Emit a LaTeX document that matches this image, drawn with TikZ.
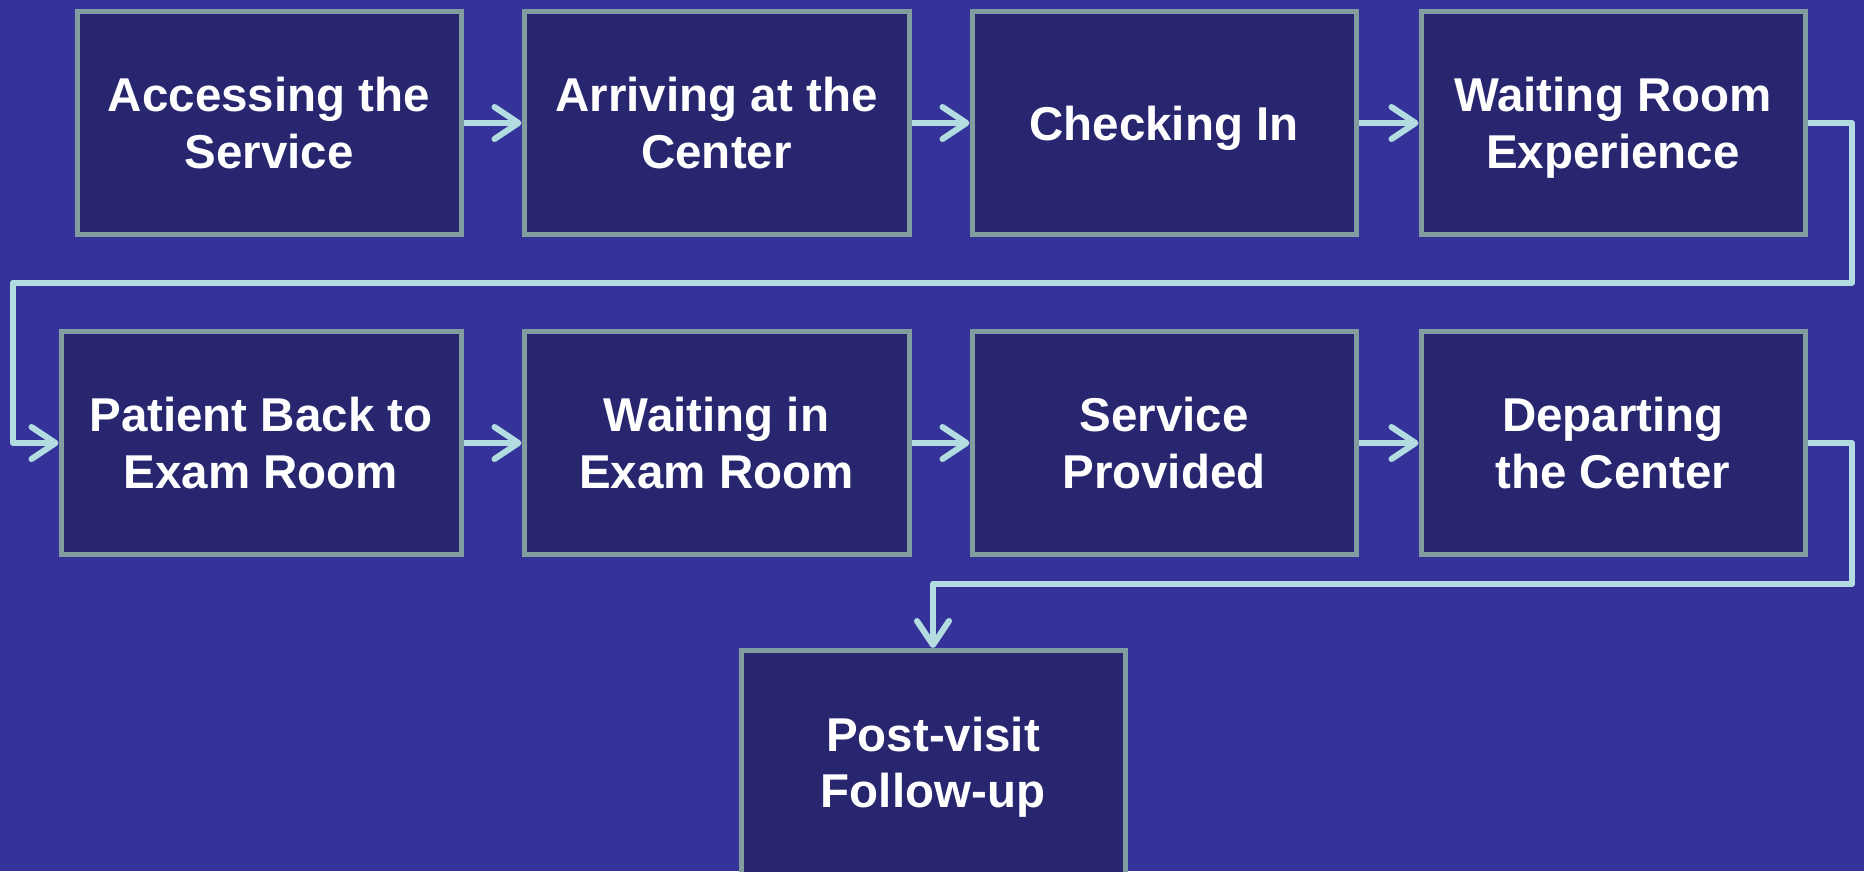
\documentclass[tikz,border=0pt]{standalone}
\usepackage{fontspec}
\setmainfont{Liberation Sans}
\usetikzlibrary{arrows.meta}
\definecolor{bgc}{HTML}{35339A}
\definecolor{boxfill}{HTML}{27266F}
\definecolor{boxline}{HTML}{819DA0}
\definecolor{arrc}{HTML}{B2DCE0}
\tikzset{
  stepbox/.style={draw=boxline, fill=boxfill, line width=5pt, inner sep=0pt,
    minimum height=223pt, text=white, align=center, text depth=0pt,
    font=\fontsize{47.5}{56.5}\selectfont\bfseries},
  flow/.style={draw=arrc, line width=6pt, line join=round,
    -{Straight Barb[length=24pt,width=32pt,round]}}
}
\begin{document}
\begin{tikzpicture}[x=1pt,y=-1pt]
\fill[bgc] (0,0) rectangle (1864,871);
\useasboundingbox (0,0) rectangle (1864,871);
% row 1
\node[stepbox, minimum width=384pt] (b1) at (269,123) {Accessing the\\Service};
\node[stepbox, minimum width=385pt] (b2) at (716.5,123) {Arriving at the\\Center};
\node[stepbox, minimum width=384pt] (b3) at (1164,123) {Checking In};
\node[stepbox, minimum width=384pt] (b4) at (1613,123) {Waiting Room\\Experience};
% row 2
\node[stepbox, minimum width=400pt] (b5) at (261,443) {Patient Back to\\Exam Room};
\node[stepbox, minimum width=385pt] (b6) at (716.5,443) {Waiting in\\Exam Room};
\node[stepbox, minimum width=384pt] (b7) at (1164,443) {Service\\Provided};
\node[stepbox, minimum width=384pt] (b8) at (1613,443) {Departing\\the Center};
% row 3
\node[stepbox, minimum width=384pt, minimum height=224pt] (b9) at (933,762.5) {Post-visit\\Follow-up};
% coordinates
\coordinate (r1) at (1852,282.5);
\coordinate (l1) at (13,282.5);
\coordinate (r2) at (1852,584);
% connectors
\draw[flow] (b1) -- (b2);
\draw[flow] (b2) -- (b3);
\draw[flow] (b3) -- (b4);
\draw[flow] (b4.east) -| (r1) -- (l1) |- (b5.west);
\draw[flow] (b5) -- (b6);
\draw[flow] (b6) -- (b7);
\draw[flow] (b7) -- (b8);
\draw[flow] (b8.east) -| (r2) -| (b9.north);
\end{tikzpicture}
\end{document}
